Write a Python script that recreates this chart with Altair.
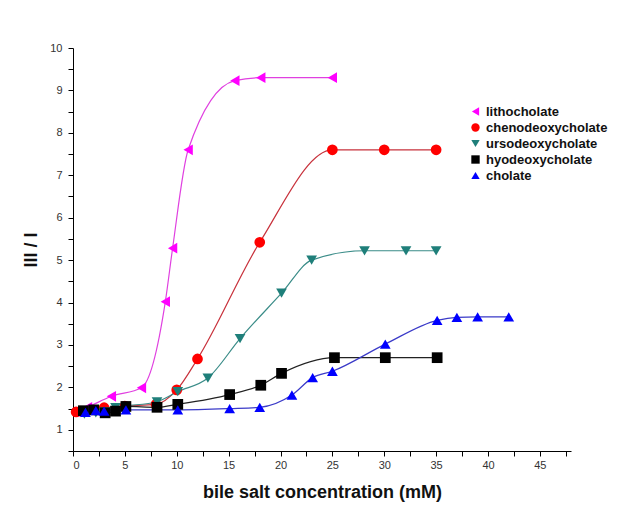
import altair as alt
import pandas as pd

series_names = ["lithocholate", "chenodeoxycholate", "ursodeoxycholate", "hyodeoxycholate", "cholate"]

litho_x = [0.3, 1.4, 3.7, 6.6, 8.9, 9.6, 11.1, 15.6, 18.1, 25.0]
litho_y = [1.42, 1.53, 1.79, 1.99, 4.02, 5.28, 7.6, 9.23, 9.3, 9.3]

cheno_x = [0.3, 3.0, 5.0, 8.0, 10.0, 12.0, 18.0, 25.0, 30.0, 35.0]
cheno_y = [1.42, 1.52, 1.56, 1.6, 1.94, 2.67, 5.42, 7.6, 7.6, 7.6]

urso_x = [1.1, 2.2, 3.1, 4.1, 8.1, 10.1, 13.0, 16.1, 20.1, 23.0, 28.1, 32.1, 35.0]
urso_y = [1.37, 1.4, 1.42, 1.52, 1.66, 1.9, 2.22, 3.15, 4.22, 5.0, 5.22, 5.22, 5.22]

hyo_x = [1.0, 2.0, 3.1, 4.1, 5.1, 8.1, 10.1, 15.1, 18.1, 20.1, 25.2, 30.1, 35.1]
hyo_y = [1.45, 1.47, 1.4, 1.44, 1.55, 1.53, 1.6, 1.83, 2.05, 2.33, 2.7, 2.7, 2.7]

chol_x = [1.2, 2.2, 3.0, 5.1, 10.1, 15.1, 18.0, 21.1, 23.1, 25.0, 30.1, 35.1, 37.0, 39.0, 42.0]
chol_y = [1.41, 1.45, 1.44, 1.47, 1.47, 1.5, 1.53, 1.82, 2.23, 2.38, 3.02, 3.58, 3.65, 3.66, 3.66]

x_ticks = [i * 2.5 for i in range(0, 20)]
y_ticks = [0.5 + i * 0.5 for i in range(0, 20)]

marker_colors = ["#ff00ff", "#ff0000", "#1f7f7a", "#000000", "#0000ff"]
line_colors = ["#e040e0", "#c8323c", "#3a8c88", "#222222", "#3a3ac8"]
shapes = ["triangle-left", "circle", "triangle-down", "square", "triangle-up"]

rows = []
for name, xs, ys in zip(series_names,
                        [litho_x, cheno_x, urso_x, hyo_x, chol_x],
                        [litho_y, cheno_y, urso_y, hyo_y, chol_y]):
    for xv, yv in zip(xs, ys):
        rows.append({"series": name, "curve": name + " ", "conc": xv, "ratio": yv})
df = pd.DataFrame(rows)

x_enc = alt.X("conc:Q",
              scale=alt.Scale(domain=[0, 48], nice=False, zero=False),
              axis=alt.Axis(title="bile salt concentration (mM)", values=x_ticks,
                            labelExpr="datum.value % 5 == 0 ? format(datum.value, 'd') : ''",
                            grid=False, tickSize=5, tickColor="#000", domainColor="#000",
                            labelFont="Liberation Sans", labelFontSize=11, labelColor="#333",
                            labelPadding=3, titleFont="Liberation Sans", titleFontSize=18,
                            titleFontWeight="bold", titleColor="#111", titlePadding=13))
y_enc = alt.Y("ratio:Q",
              scale=alt.Scale(domain=[0.5, 10], nice=False, zero=False),
              axis=alt.Axis(title="III / I", values=y_ticks,
                            labelExpr="datum.value % 1 == 0 ? format(datum.value, 'd') : ''",
                            grid=False, tickSize=5, tickColor="#000", domainColor="#000",
                            labelFont="Liberation Sans", labelFontSize=11, labelColor="#333",
                            labelPadding=6, titleFont="Liberation Sans", titleFontSize=18,
                            titleFontWeight="bold", titleColor="#111", titlePadding=9))

lines = alt.Chart(df).mark_line(interpolate="monotone", strokeWidth=1.2).encode(
    x=x_enc, y=y_enc,
    stroke=alt.Stroke("curve:N",
                      scale=alt.Scale(domain=[n + " " for n in series_names], range=line_colors),
                      legend=None),
)

points = alt.Chart(df).mark_point(filled=True, size=115, opacity=1).encode(
    x=x_enc, y=y_enc,
    fill=alt.Fill("series:N", scale=alt.Scale(domain=series_names, range=marker_colors), title=None),
    shape=alt.Shape("series:N", scale=alt.Scale(domain=series_names, range=shapes), title=None),
)

chart = alt.layer(lines, points).properties(
    width=498, height=403,
    autosize=alt.AutoSizeParams(type="none"),
    padding={"left": 65, "top": 40, "right": 40, "bottom": 52},
).resolve_legend(stroke="independent").configure_view(stroke=None).configure_legend(
    orient="none", legendX=396, legendY=57,
    labelFont="Liberation Sans", labelFontSize=13, labelFontWeight="bold", labelColor="#111",
    labelLimit=0, symbolSize=70, symbolStrokeWidth=0, rowPadding=2, labelOffset=4,
)

chart.save("out.html", embed_options={"renderer": "svg", "actions": False})
